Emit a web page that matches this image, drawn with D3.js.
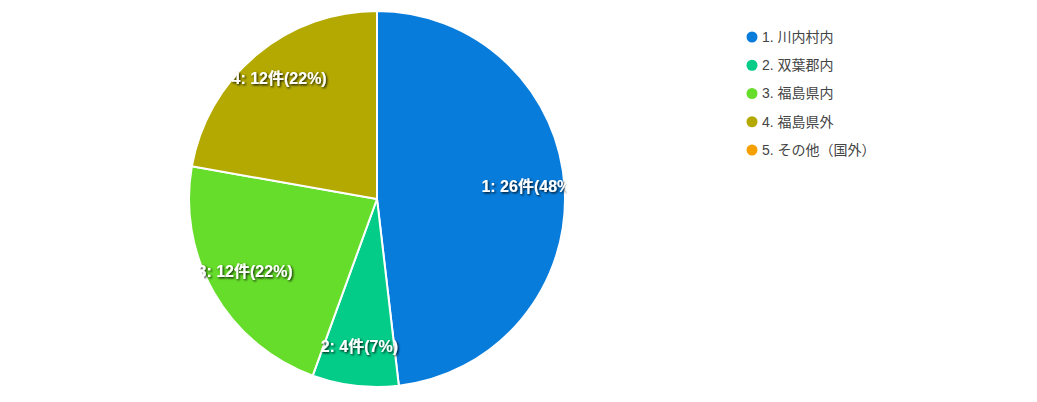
<!DOCTYPE html>
<html><head><meta charset="utf-8">
<script src="https://cdn.jsdelivr.net/npm/d3@7"></script>
<style>
html,body{margin:0;padding:0;background:#fff;}
svg{display:block;}
</style></head>
<body>
<svg id="chart" width="1037" height="402"></svg>
<script>
const categories = ["1. 川内村内", "2. 双葉郡内", "3. 福島県内", "4. 福島県外", "5. その他（国外）"];
const values = [26, 4, 12, 12, 0];
const colors = ["#077cdb", "#02cc88", "#66dd2a", "#b3a900", "#f5a000"];
const unit = "件";

const svg = d3.select("#chart");
const cx = 377, cy = 199, R = 188;
const total = d3.sum(values);
const data = categories.map((c, i) => ({cat: c, value: values[i], idx: i + 1, color: colors[i]}));

const pie = d3.pie().value(d => d.value).sort(null);
const arcs = pie(data);
const arc = d3.arc().innerRadius(0).outerRadius(R);
const labelArc = d3.arc().innerRadius(R * 0.81).outerRadius(R * 0.81);

const defs = svg.append("defs");
defs.append("clipPath").attr("id", "pieClip")
  .append("circle").attr("cx", cx).attr("cy", cy).attr("r", R + 2);
const f = defs.append("filter").attr("id", "shadow").attr("x", "-20%").attr("y", "-50%").attr("width", "140%").attr("height", "200%");
f.append("feDropShadow").attr("dx", 1.2).attr("dy", 1.2).attr("stdDeviation", 1.3)
  .attr("flood-color", "#000").attr("flood-opacity", 0.9);

const g = svg.append("g").attr("transform", `translate(${cx},${cy})`);
g.selectAll("path").data(arcs.filter(d => d.data.value > 0)).join("path")
  .attr("d", arc).attr("fill", d => d.data.color)
  .attr("stroke", "#fff").attr("stroke-width", 2).attr("stroke-linejoin", "round");

const lg = svg.append("g").attr("clip-path", "url(#pieClip)");
lg.selectAll("text").data(arcs.filter(d => d.data.value > 0)).join("text")
  .attr("transform", d => { const [x, y] = labelArc.centroid(d); return `translate(${cx + x},${cy + y - 4})`; })
  .attr("text-anchor", "middle").attr("dominant-baseline", "central")
  .attr("font-family", "'Liberation Sans', Arial, 'Noto Sans CJK JP', sans-serif")
  .attr("font-weight", "bold").attr("font-size", 16).attr("fill", "#fff")
  .attr("filter", "url(#shadow)")
  .text(d => `${d.data.idx}: ${d.data.value}${unit}(${Math.round(d.data.value / total * 100)}%)`);

const leg = svg.append("g");
const ly = d3.scalePoint().domain(categories).range([37, 150]);
const items = leg.selectAll("g").data(data).join("g")
  .attr("transform", d => `translate(752,${ly(d.cat)})`);
items.append("circle").attr("r", 5.5).attr("fill", d => d.color);
items.append("text").attr("x", 10).attr("dy", "0.35em")
  .attr("font-family", "'Liberation Sans', Arial, 'Noto Sans CJK JP', sans-serif")
  .attr("font-size", 14).attr("fill", "#444").text(d => d.cat);
</script>
</body></html>
